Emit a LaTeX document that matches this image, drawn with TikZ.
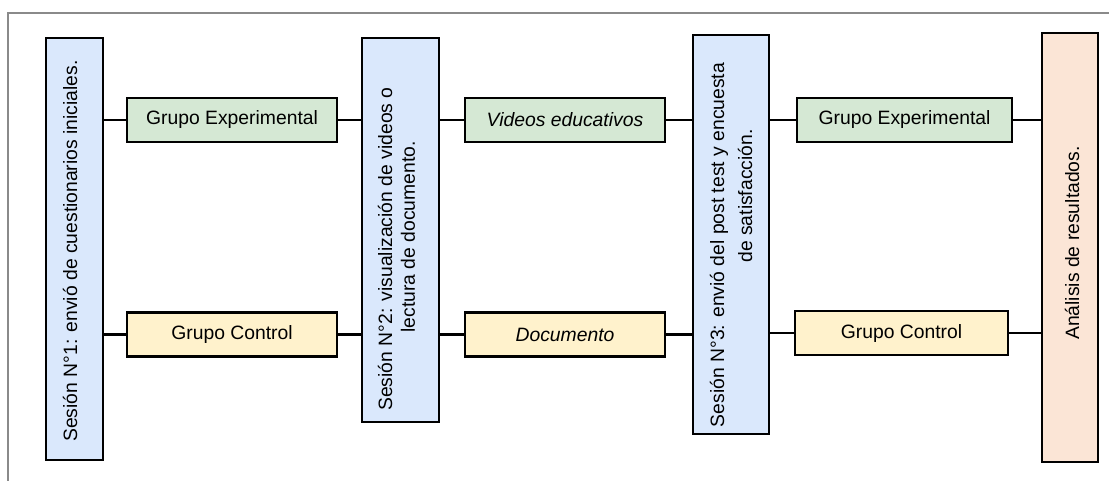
\documentclass[tikz,border=0pt]{standalone}
\usepackage{fontspec}
\setmainfont{Liberation Sans}
\definecolor{cblue}{HTML}{DAE8FC}
\definecolor{cgreen}{HTML}{D5E8D4}
\definecolor{cyellow}{HTML}{FFF2CC}
\definecolor{cpeach}{HTML}{FBE5D6}
\definecolor{cframe}{HTML}{8A8A8A}
\tikzset{
  sbox/.style={draw=black, line width=2pt, inner sep=0pt},
  grp/.style={draw=black, line width=2pt, inner sep=0pt, minimum height=33pt, font=\fontsize{14.5}{17}\selectfont},
  vtext/.style={rotate=90, inner sep=0pt, font=\fontsize{14.5}{17}\selectfont},
  link/.style={line width=2pt, draw=black}
}
\begin{document}
\begin{tikzpicture}[x=0.75pt, y=-0.75pt]
\useasboundingbox (0,0) rectangle (1109,481);
% outer frame (partially visible)
\draw[cframe, line width=1.2pt] (8,481) -- (8,13) -- (1109,13);

% session boxes
\node[sbox, fill=cblue, minimum width=57*0.75pt, minimum height=422*0.75pt] (s1) at (74.5,249) {};
\node[sbox, fill=cblue, minimum width=77*0.75pt, minimum height=384*0.75pt] (s2) at (400.5,230) {};
\node[sbox, fill=cblue, minimum width=76*0.75pt, minimum height=399*0.75pt] (s3) at (731,234.5) {};
\node[sbox, fill=cpeach, minimum width=56*0.75pt, minimum height=429*0.75pt] (s4) at (1070,247.5) {};

% vertical texts
\node[vtext] (t1) at (70,251) {Sesión N°1: envió de cuestionarios iniciales.};
\node[vtext] (t2a) at (385,249) {Sesión N°2: visualización de videos o};
\node[vtext] (t2b) at (408,237) {lectura de documento.};
\node[vtext] (t3a) at (719,245) {Sesión N°3: envió del post test y encuesta};
\node[vtext] (t3b) at (745,196) {de satisfacción.};
\node[vtext] (t4) at (1072,243) {Análisis de resultados.};

% group boxes
\node[grp, fill=cgreen, minimum width=210*0.75pt] (g1) at (232,120) {Grupo Experimental};
\node[grp, fill=cgreen, minimum width=200*0.75pt] (g2) at (565,120) {\itshape Videos educativos};
\node[grp, fill=cgreen, minimum width=215*0.75pt] (g3) at (904.5,120) {Grupo Experimental};
\node[grp, fill=cyellow, minimum width=210*0.75pt] (y1) at (232,334.5) {Grupo Control};
\node[grp, fill=cyellow, minimum width=200*0.75pt] (y2) at (565,334.5) {\itshape Documento};
\node[grp, fill=cyellow, minimum width=213*0.75pt] (y3) at (901.5,333) {Grupo Control};

% connectors
\draw[link] (g1.west) -- (g1.west -| s1.east);
\draw[link] (g1.east) -- (g1.east -| s2.west);
\draw[link] (g2.west) -- (g2.west -| s2.east);
\draw[link] (g2.east) -- (g2.east -| s3.west);
\draw[link] (g3.west) -- (g3.west -| s3.east);
\draw[link] (g3.east) -- (g3.east -| s4.west);
\draw[link] (y1.west) -- (y1.west -| s1.east);
\draw[link] (y1.east) -- (y1.east -| s2.west);
\draw[link] (y2.west) -- (y2.west -| s2.east);
\draw[link] (y2.east) -- (y2.east -| s3.west);
\draw[link] (y3.west) -- (y3.west -| s3.east);
\draw[link] (y3.east) -- (y3.east -| s4.west);
\end{tikzpicture}
\end{document}
